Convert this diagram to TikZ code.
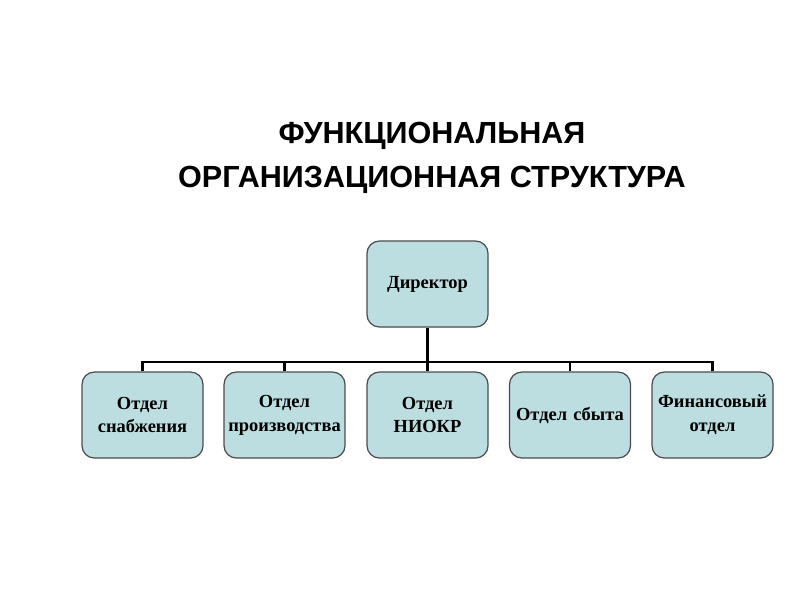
\documentclass[tikz,border=0pt]{standalone}
\usepackage{fontspec}
\setmainfont{Liberation Serif}
\newfontfamily\titlefont{Liberation Sans}
\usetikzlibrary{positioning}
\definecolor{boxfill}{HTML}{BCDEE0}
\begin{document}
\begin{tikzpicture}[x=0.02cm,y=-0.02cm]
\tikzset{dept/.style={draw=black!70,fill=boxfill,rounded corners=7pt,text width=2.3cm,inner xsep=0.06cm,minimum height=1.72cm,align=center,font=\fontsize{10.5}{13.5}\selectfont\bfseries,line width=0.7pt},
  link/.style={line width=1.2pt}}
\useasboundingbox (0,0) rectangle (800,600);
\node[font=\titlefont\bfseries\fontsize{17.4}{25}\selectfont,align=center] (title) at (432,158) {ФУНКЦИОНАЛЬНАЯ\\ОРГАНИЗАЦИОННАЯ СТРУКТУРА};
\node[dept] (dir) at (427.5,284) {Директор};
\node[dept] (d1) at (142.5,415) {Отдел\\снабжения};
\node[dept] (d2) at (284.5,415) {Отдел\\производства};
\node[dept] (d3) at (427.5,415) {Отдел\\НИОКР};
\node[dept] (d4) at (570,415) {Отдел сбыта};
\node[dept] (d5) at (712.5,415) {Финансовый\\отдел};
\coordinate (bus) at (427.5,362);
\draw[link] (dir) -- (d3);
\draw[link] (d1.north) |- (bus) -| (d5.north);
\foreach \d in {d2,d4}
  \draw[link] (\d.north) -- (\d.north |- bus);
\end{tikzpicture}
\end{document}
